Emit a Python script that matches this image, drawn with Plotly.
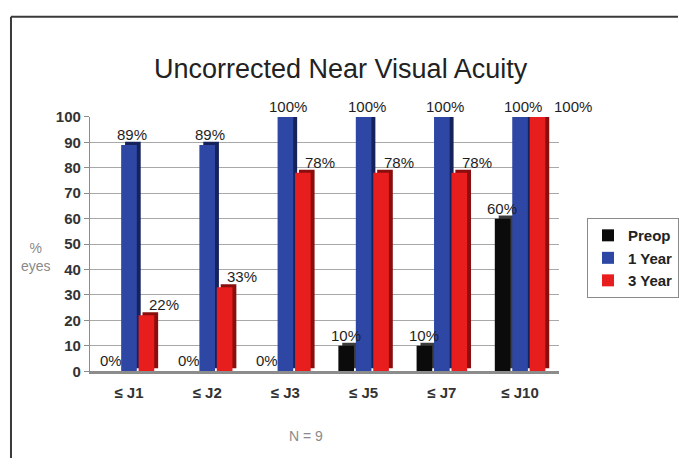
import plotly.graph_objects as go

# --- data -------------------------------------------------------------
categories = ["≤ J1", "≤ J2", "≤ J3", "≤ J5", "≤ J7", "≤ J10"]
series_names = ["Preop", "1 Year", "3 Year"]
preop = [0, 0, 0, 10, 10, 60]
year1 = [89, 89, 100, 100, 100, 100]
year3 = [22, 33, 78, 78, 78, 100]
y_ticks = list(range(0, 101, 10))

series_values = [preop, year1, year3]

# --- style ------------------------------------------------------------
W, H = 679, 466
FONT = "Arial, Liberation Sans, sans-serif"
front_colors = ["#0b0b0b", "#2e47a4", "#e81d1d"]
side_colors = ["#3c3c3c", "#15225c", "#8a0e0e"]

slot = 0.223      # distance between neighbouring bars (category units)
bar_w = 0.2       # bar face width
depth_x = 0.05    # pseudo-3D depth, horizontal
depth_y = 1.2     # pseudo-3D depth, vertical (axis units)
label_dx = [-18, 3, 35]   # label offset per series (px)

fig = go.Figure()

for i, (name, vals) in enumerate(zip(series_names, series_values)):
    off = (i - 1) * slot - bar_w / 2
    # darker body behind the face gives the extruded look
    fig.add_trace(go.Bar(
        x=categories, y=vals, base=depth_y,
        offset=off + depth_x, width=bar_w,
        marker=dict(color=side_colors[i], line=dict(width=0)),
        showlegend=False, hoverinfo="skip",
    ))
    fig.add_trace(go.Bar(
        x=categories, y=vals, name=name,
        offset=off, width=bar_w,
        marker=dict(color=front_colors[i], line=dict(width=0)),
    ))

# value labels
annotations = []
for i, vals in enumerate(series_values):
    for j, (cat, v) in enumerate(zip(categories, vals)):
        dx = label_dx[i]
        # keep the last label clear of an equal-valued neighbour
        if i == 2 and v == year1[j]:
            dx += 18
        annotations.append(dict(
            x=cat, y=v, xref="x", yref="y", text=f"{v}%",
            showarrow=False, yanchor="bottom", xanchor="center",
            xshift=dx, yshift=0,
            font=dict(family=FONT, size=15, color="#1e1e1e"),
        ))

annotations += [
    dict(x=36 / W, y=1 - 257 / H, xref="paper", yref="paper",
         xanchor="center", yanchor="middle",
         text="%<br>eyes", showarrow=False,
         font=dict(family=FONT, size=14, color="#8a8a8a")),
    dict(x=306 / W, y=1 - 443 / H, xref="paper", yref="paper",
         xanchor="center", yanchor="middle",
         text="N = 9", showarrow=False,
         font=dict(family=FONT, size=14, color="#8a8a8a")),
    dict(x=342 / W, y=1 - 62 / H, xref="paper", yref="paper",
         xanchor="center", yanchor="middle",
         text="Uncorrected Near Visual Acuity", showarrow=False,
         font=dict(family=FONT, size=27, color="#222222")),
]

fig.update_layout(
    width=W, height=H,
    margin=dict(l=0, r=0, t=0, b=0),
    paper_bgcolor="white", plot_bgcolor="white",
    barmode="overlay",
    annotations=annotations,
    legend=dict(
        x=588 / W, y=1 - 217 / H, xanchor="left", yanchor="top",
        bordercolor="#8a8a8a", borderwidth=1, bgcolor="white",
        font=dict(family=FONT, size=15, color="#222222", weight="bold"),
        itemwidth=30, tracegroupgap=0,
    ),
    xaxis=dict(
        domain=[90 / W, 560 / W], range=[-0.5, 5.5],
        type="category", categoryorder="array", categoryarray=categories,
        showline=True, linecolor="#8c8c8c", linewidth=3,
        showgrid=False, ticks="", ticklabelstandoff=6,
        tickfont=dict(family=FONT, size=15, color="#333333", weight="bold"),
    ),
    yaxis=dict(
        domain=[1 - 376 / H, 1 - 112 / H], range=[0, 100],
        tickvals=y_ticks, ticks="outside", ticklen=5, tickcolor="#8c8c8c",
        showline=True, linecolor="#8c8c8c", linewidth=1,
        showgrid=True, gridcolor="#a8a8a8", gridwidth=1, zeroline=False,
        tickfont=dict(family=FONT, size=15, color="#333333", weight="bold"),
    ),
    shapes=[
        dict(type="line", xref="paper", yref="paper",
             x0=11 / W, x1=1, y0=1 - 8 / H, y1=1 - 8 / H,
             line=dict(color="#3a3a3a", width=2)),
        dict(type="line", xref="paper", yref="paper",
             x0=11 / W, x1=11 / W, y0=0, y1=1 - 8 / H,
             line=dict(color="#3a3a3a", width=2)),
    ],
)

fig.write_html("out.html")
